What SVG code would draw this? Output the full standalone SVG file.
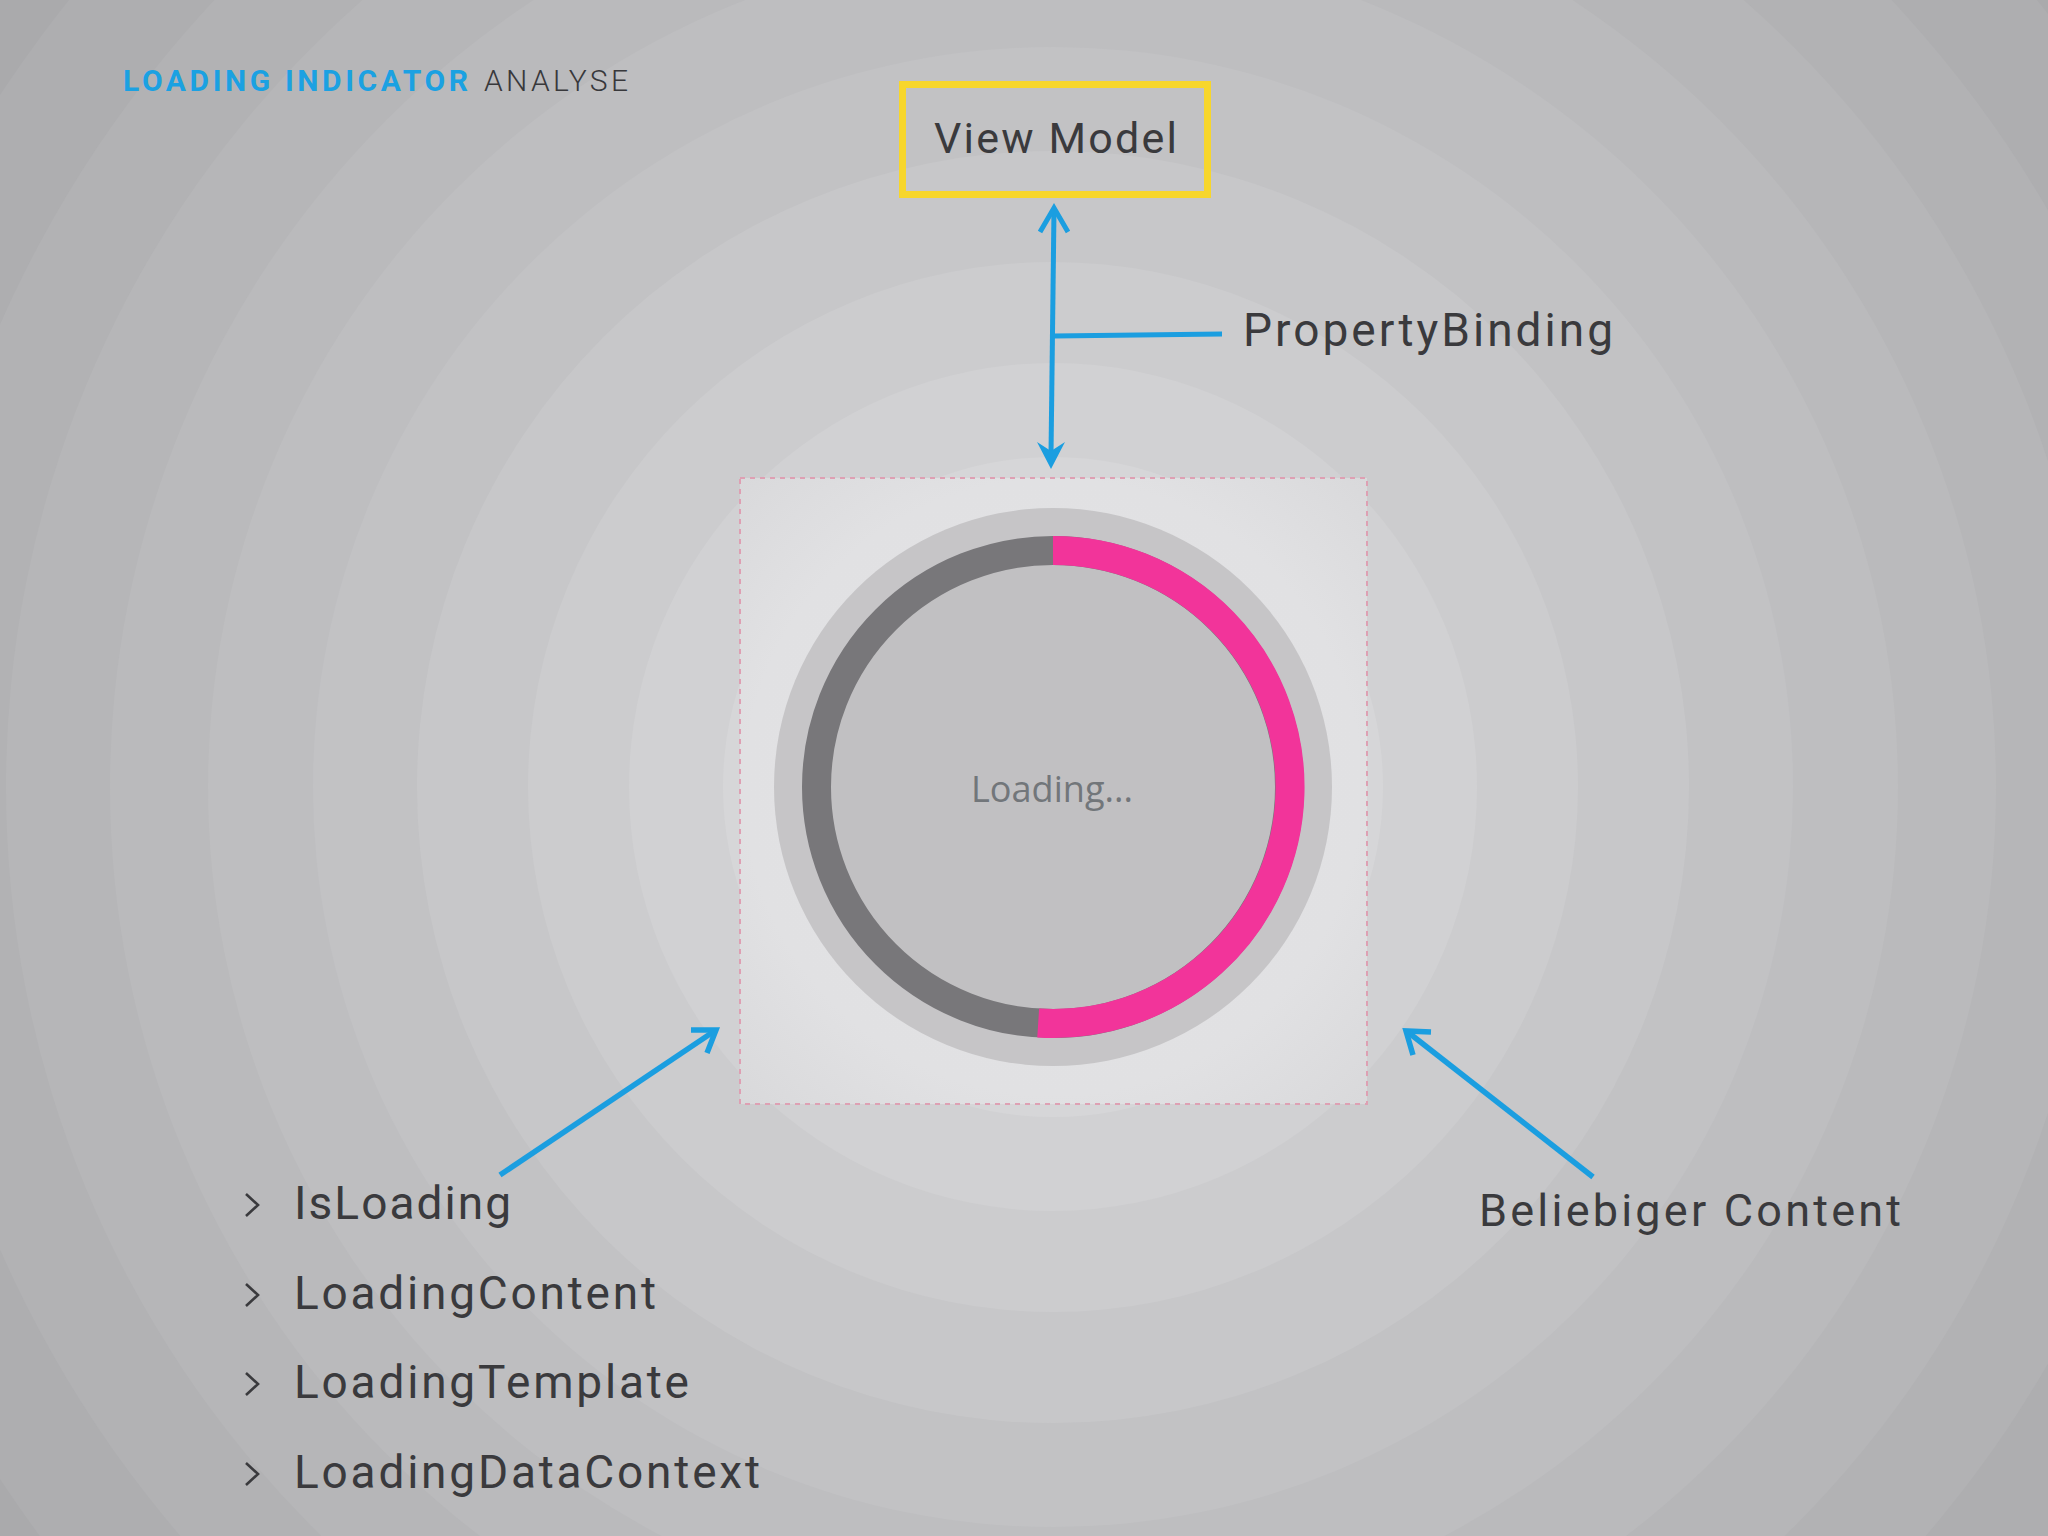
<svg xmlns="http://www.w3.org/2000/svg" width="2048" height="1536" viewBox="0 0 2048 1536">
  <style>
    .lbl { font-family: Roboto, "Liberation Sans", sans-serif; font-weight: 400; fill: #3a3a3d; }
    .conn { stroke: #1b9ee0; fill: none; stroke-linecap: butt; stroke-linejoin: miter; }
    .bul { stroke: #3a3a3d; stroke-width: 2.6; fill: none; }
  </style>
  <defs>
    <radialGradient id="boxGlow" cx="1053" cy="787" r="440" gradientUnits="userSpaceOnUse">
      <stop offset="0" stop-color="#e3e3e5"/>
      <stop offset="0.7" stop-color="#e1e1e3"/>
      <stop offset="1" stop-color="#d9d9db"/>
    </radialGradient>
  </defs>

  <g id="background">
    <rect x="0" y="0" width="2048" height="1536" fill="#aaaaac"/>
    <circle cx="1053" cy="787" r="1260" fill="#aeaeb0"/>
    <circle cx="1053" cy="787" r="1150" fill="#b2b2b4"/>
    <circle cx="1053" cy="787" r="1047" fill="#b6b6b8"/>
    <circle cx="1053" cy="787" r="943" fill="#bababc"/>
    <circle cx="1053" cy="787" r="845" fill="#bebec0"/>
    <circle cx="1053" cy="787" r="740" fill="#c2c2c4"/>
    <circle cx="1053" cy="787" r="636" fill="#c7c7c9"/>
    <circle cx="1053" cy="787" r="525" fill="#cccccE"/>
    <circle cx="1053" cy="787" r="424" fill="#d1d1d3"/>
    <circle cx="1053" cy="787" r="330" fill="#d6d6d8"/>
  </g>

  <g id="title">
    <text x="123" y="91" font-family="Roboto, 'Liberation Sans', sans-serif" font-weight="700" font-size="30" fill="#1ba1e2" textLength="345" lengthAdjust="spacing">LOADING INDICATOR</text>
    <text x="484" y="91" font-family="Roboto, 'Liberation Sans', sans-serif" font-weight="300" font-size="30" fill="#38383b" textLength="144" lengthAdjust="spacing">ANALYSE</text>
  </g>

  <g id="view-model">
    <rect x="902.5" y="84.5" width="305" height="110" fill="none" stroke="#f7d62c" stroke-width="7"/>
    <text class="lbl" x="934" y="153" font-size="43" textLength="243" lengthAdjust="spacing">View Model</text>
  </g>

  <g id="loading-indicator">
    <rect x="740" y="478" width="627" height="626" fill="url(#boxGlow)" stroke="#dea0b3" stroke-width="2" stroke-dasharray="5 5"/>
    <circle cx="1053" cy="787" r="279" fill="#c6c5c7"/>
    <circle cx="1053" cy="787" r="236.5" fill="#c1c0c2" stroke="#78777a" stroke-width="29"/>
    <path d="M1053,550.5 A236.5,236.5 0 1 1 1038.2,1023" fill="none" stroke="#f2349a" stroke-width="29"/>
    <text x="1052" y="802" text-anchor="middle" font-family="'Open Sans', 'Liberation Sans', sans-serif" font-size="37" fill="#72767a" textLength="162" lengthAdjust="spacingAndGlyphs">Loading...</text>
  </g>

  <g id="property-binding-label">
    <text class="lbl" x="1243" y="346" font-size="46" textLength="370" lengthAdjust="spacing">PropertyBinding</text>
  </g>

  <g id="properties-list">
    <polyline class="bul" points="246,1194 258,1205 246,1216"/>
    <text class="lbl" x="294" y="1219" font-size="46" textLength="217" lengthAdjust="spacing">IsLoading</text>
    <polyline class="bul" points="246,1284 258,1295 246,1306"/>
    <text class="lbl" x="294" y="1309" font-size="46" textLength="362" lengthAdjust="spacing">LoadingContent</text>
    <polyline class="bul" points="246,1373 258,1384 246,1395"/>
    <text class="lbl" x="294" y="1398" font-size="46" textLength="395" lengthAdjust="spacing">LoadingTemplate</text>
    <polyline class="bul" points="246,1463 258,1474 246,1485"/>
    <text class="lbl" x="294" y="1488" font-size="46" textLength="466" lengthAdjust="spacing">LoadingDataContext</text>
  </g>

  <g id="content-label">
    <text class="lbl" x="1479" y="1226" font-size="45" textLength="422" lengthAdjust="spacing">Beliebiger Content</text>
  </g>

  <g id="connectors">
    <line class="conn" x1="1054" y1="210" x2="1051" y2="455" stroke-width="5"/>
    <polyline class="conn" points="1040,232 1054,208 1068,232" stroke-width="5"/>
    <path d="M1051,469 L1037,442 L1051,451 L1065,442 Z" fill="#1b9ee0"/>
    <line class="conn" x1="1054" y1="336" x2="1222" y2="334" stroke-width="5"/>
    <line class="conn" x1="500" y1="1175" x2="713" y2="1032" stroke-width="5.5"/>
    <polyline class="conn" points="691,1030 716,1030 707,1053" stroke-width="5.5"/>
    <line class="conn" x1="1593" y1="1177" x2="1409" y2="1033" stroke-width="5.5"/>
    <polyline class="conn" points="1413,1055 1406,1031 1431,1032" stroke-width="5.5"/>
  </g>
</svg>
